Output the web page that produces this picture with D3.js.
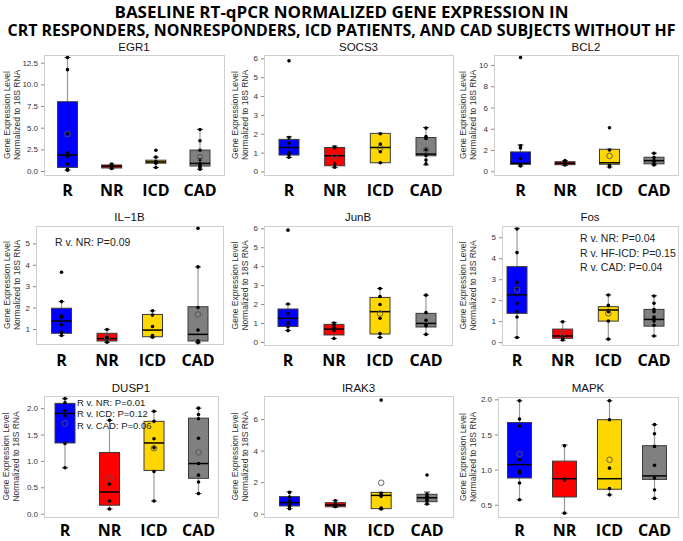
<!DOCTYPE html>
<html><head><meta charset="utf-8">
<script src="https://cdn.jsdelivr.net/npm/d3@7"></script>
<style>body{margin:0;background:#fff} svg{display:block}</style>
</head><body><svg id="c" width="683" height="541"></svg>
<script>
// ---------- DATA ----------
const groups = ["R", "NR", "ICD", "CAD"];
const titleLines = ["BASELINE RT-qPCR NORMALIZED GENE EXPRESSION IN",
                    "CRT RESPONDERS, NONRESPONDERS, ICD PATIENTS, AND CAD SUBJECTS WITHOUT HF"];
const yLabelLines = ["Gene Expression Level", "Normalized to 18S RNA"];
const geneNames = ["EGR1", "SOCS3", "BCL2", "IL\u22121B", "JunB", "Fos", "DUSP1", "IRAK3", "MAPK"];

// box stats per group: [whiskerLow, q1, median, q3, whiskerHigh]
const egr1Box = [[0.1, 0.42, 1.85, 8.0, 13.1], [0.25, 0.35, 0.55, 0.7, 0.8], [0.4, 0.9, 1.05, 1.25, 1.6], [0.2, 0.58, 0.88, 2.42, 4.8]];
const egr1Mean = [4.25, null, null, 1.6];
const egr1Pts = [[13.1, 11.7, 4.3, 2.1, 1.7, 0.8, 0.2, 0.1], [0.8, 0.6, 0.5, 0.3], [2.4, 1.6, 1.1, 1.0, 0.9, 0.4], [4.8, 3.5, 2.4, 1.3, 0.85, 0.6, 0.4, 0.2]];
const egr1Ticks = [0, 2.5, 5, 7.5, 10, 12.5];
const egr1Domain = [-0.46, 13.39];

const socs3Box = [[0.74, 0.87, 1.27, 1.7, 1.84], [0.2, 0.3, 0.83, 1.27, 1.35], [0.46, 0.46, 1.27, 2.02, 2.02], [0.35, 0.83, 0.92, 1.8, 2.33]];
const socs3Mean = [null, 0.78, 1.25, 1.15];
const socs3Pts = [[5.87, 1.8, 1.5, 1.0, 0.9, 0.75], [1.3, 1.25, 0.4, 0.22], [2.0, 1.45, 1.05, 0.46], [2.3, 1.85, 1.75, 1.15, 0.85, 0.6, 0.4]];
const socs3Ticks = [0, 1, 2, 3, 4, 5, 6];
const socs3Domain = [-0.19, 6.18];

const bcl2Box = [[0.5, 0.66, 0.75, 1.82, 2.48], [0.55, 0.62, 0.75, 0.9, 1.0], [0.4, 0.66, 0.8, 2.07, 2.07], [0.6, 0.7, 1.0, 1.32, 1.7]];
const bcl2Mean = [null, null, 1.45, null];
const bcl2Pts = [[10.7, 2.4, 2.2, 1.2, 0.6, 0.5], [1.0, 0.85, 0.6], [4.1, 2.0, 0.55, 0.4], [1.7, 1.3, 1.0, 0.95, 0.7, 0.6]];
const bcl2Ticks = [0, 2, 4, 6, 8, 10];
const bcl2Domain = [-0.35, 10.94];

const il1bBox = [[0.69, 0.8, 1.37, 1.97, 2.28], [0.38, 0.44, 0.55, 0.8, 0.98], [0.62, 0.64, 0.95, 1.68, 1.85], [0.36, 0.44, 0.75, 2.04, 3.9]];
const il1bMean = [null, 0.6, null, 1.68];
const il1bPts = [[3.65, 2.28, 1.6, 1.55, 1.2, 0.85, 0.7], [0.98, 0.62, 0.5, 0.38], [1.85, 1.65, 1.12, 0.7, 0.62], [5.7, 3.9, 2.0, 0.95, 0.45, 0.4, 0.36]];
const il1bTicks = [1, 2, 3, 4, 5];
const il1bDomain = [0.3, 5.81];
const il1bNotes = ["R v. NR: P=0.09"];

const junbBox = [[0.6, 0.82, 1.25, 1.74, 2.0], [0.18, 0.37, 0.68, 0.93, 1.02], [0.23, 0.42, 1.6, 2.35, 2.82], [0.4, 0.79, 0.98, 1.51, 2.47]];
const junbMean = [null, null, 1.5, null];
const junbPts = [[5.9, 2.0, 1.5, 1.02, 0.8, 0.6], [1.0, 0.9, 0.75, 0.6, 0.18], [2.82, 2.4, 1.98, 1.25, 0.45, 0.25], [2.47, 1.55, 1.15, 0.9, 0.85, 0.4]];
const junbTicks = [0, 1, 2, 3, 4, 5, 6];
const junbDomain = [-0.16, 6.12];

const fosBox = [[0.22, 1.37, 2.25, 3.6, 5.43], [0.08, 0.18, 0.29, 0.62, 0.97], [0.14, 1.0, 1.53, 1.69, 2.25], [0.29, 0.76, 1.08, 1.56, 2.21]];
const fosMean = [2.5, 0.41, 1.37, null];
const fosPts = [[5.4, 4.27, 2.85, 2.6, 1.85, 1.45, 1.2, 0.22], [0.97, 0.25, 0.15, 0.1], [2.25, 1.75, 1.5, 1.45, 1.0, 0.14], [2.2, 1.85, 1.55, 1.45, 1.2, 1.1, 1.0, 0.8, 0.29]];
const fosTicks = [0, 1, 2, 3, 4, 5];
const fosDomain = [-0.14, 5.54];
const fosNotes = ["R v. NR: P=0.04", "R v. HF-ICD: P=0.15", "R v. CAD: P=0.04"];

const dusp1Box = [[0.87, 1.34, 1.9, 2.09, 2.18], [0.09, 0.16, 0.41, 1.16, 1.77], [0.24, 0.82, 1.34, 1.75, 1.94], [0.38, 0.67, 0.95, 1.81, 2.0]];
const dusp1Mean = [1.71, 0.67, 1.24, 1.16];
const dusp1Pts = [[2.18, 2.1, 1.95, 1.85, 1.33, 0.87], [1.77, 0.56, 0.24, 0.09], [1.94, 1.75, 1.42, 1.25, 0.8, 0.24], [2.0, 1.88, 1.8, 1.43, 0.95, 0.73, 0.6, 0.38]];
const dusp1Ticks = [0, 0.5, 1, 1.5, 2];
const dusp1Domain = [-0.063, 2.23];
const dusp1Notes = ["R v. NR: P=0.01", "R v. ICD: P=0.12", "R v. CAD: P=0.06"];

const irak3Box = [[0.32, 0.49, 0.7, 1.08, 1.39], [0.4, 0.44, 0.55, 0.7, 0.85], [0.3, 0.32, 1.16, 1.35, 1.35], [0.6, 0.76, 1.01, 1.23, 1.37]];
const irak3Mean = [null, null, 1.96, null];
const irak3Pts = [[1.35, 1.05, 0.8, 0.6, 0.45, 0.32], [0.82, 0.6, 0.5, 0.45], [7.2, 1.3, 1.15, 1.1, 0.35, 0.3], [2.45, 1.25, 1.1, 1.0, 0.9, 0.8, 0.62]];
const irak3Ticks = [0, 2, 4, 6];
const irak3Domain = [-0.21, 7.46];

const mapkBox = [[0.57, 0.88, 1.07, 1.67, 1.98], [0.38, 0.61, 0.87, 1.12, 1.35], [0.64, 0.72, 0.87, 1.71, 1.98], [0.59, 0.86, 0.91, 1.34, 1.64]];
const mapkMean = [1.22, null, 1.14, null];
const mapkPts = [[1.98, 1.72, 1.62, 1.14, 0.98, 0.95, 0.81, 0.57], [1.34, 0.87, 0.85, 0.38], [1.98, 1.71, 1.02, 0.73, 0.64], [1.64, 1.51, 1.33, 1.06, 0.88, 0.71, 0.59]];
const mapkTicks = [0.5, 1, 1.5, 2];
const mapkDomain = [0.325, 2.033];

// ---------- STYLE / LAYOUT ----------
const groupColors = {R: "#0000FF", NR: "#FF0000", ICD: "#FFD700", CAD: "#808080"};
const panels = [
  {box: egr1Box, mean: egr1Mean, pts: egr1Pts, ticks: egr1Ticks, dom: egr1Domain, fmt: ".1f", notes: [],
   x0: 44, x1: 224, y0: 55, y1: 175, cx: [67.5, 200], ylx: 7, tY: 51, cY: 196, bw: 20},
  {box: socs3Box, mean: socs3Mean, pts: socs3Pts, ticks: socs3Ticks, dom: socs3Domain, fmt: "d", notes: [],
   x0: 264, x1: 453, y0: 55, y1: 175, cx: [289, 426], ylx: 235, tY: 51, cY: 196, bw: 20},
  {box: bcl2Box, mean: bcl2Mean, pts: bcl2Pts, ticks: bcl2Ticks, dom: bcl2Domain, fmt: "d", notes: [],
   x0: 494, x1: 678, y0: 55, y1: 175, cx: [520.5, 654], ylx: 463, tY: 51, cY: 196, bw: 20},
  {box: il1bBox, mean: il1bMean, pts: il1bPts, ticks: il1bTicks, dom: il1bDomain, fmt: "d", notes: il1bNotes,
   x0: 36, x1: 223, y0: 226, y1: 344, cx: [61.5, 198], ylx: 7, tY: 221, cY: 366, bw: 20,
   nx: 55, ny: 246, nfs: 10.5, ndy: 14},
  {box: junbBox, mean: junbMean, pts: junbPts, ticks: junbTicks, dom: junbDomain, fmt: "d", notes: [],
   x0: 264, x1: 452, y0: 226, y1: 345, cx: [288, 426], ylx: 235, tY: 221, cY: 366, bw: 20},
  {box: fosBox, mean: fosMean, pts: fosPts, ticks: fosTicks, dom: fosDomain, fmt: "d", notes: fosNotes,
   x0: 502, x1: 678, y0: 226, y1: 345, cx: [517, 654], ylx: 463, tY: 221, cY: 366, bw: 20,
   nx: 580, ny: 242, nfs: 10.5, ndy: 14.5},
  {box: dusp1Box, mean: dusp1Mean, pts: dusp1Pts, ticks: dusp1Ticks, dom: dusp1Domain, fmt: ".1f", notes: dusp1Notes,
   x0: 44, x1: 218, y0: 396, y1: 517, cx: [65, 198.5], ylx: 6, tY: 392, cY: 536, bw: 20,
   nx: 77, ny: 405.5, nfs: 9.5, ndy: 11.5},
  {box: irak3Box, mean: irak3Mean, pts: irak3Pts, ticks: irak3Ticks, dom: irak3Domain, fmt: "d", notes: [],
   x0: 264, x1: 453, y0: 396, y1: 517, cx: [289.5, 427], ylx: 235, tY: 392, cY: 536, bw: 20},
  {box: mapkBox, mean: mapkMean, pts: mapkPts, ticks: mapkTicks, dom: mapkDomain, fmt: ".1f", notes: [],
   x0: 498, x1: 678, y0: 397, y1: 517, cx: [519.5, 654.5], ylx: 463, tY: 392, cY: 536, bw: 24}
];

const svg = d3.select("#c");
svg.append("rect").attr("width", 683).attr("height", 541).attr("fill", "#fff");

// main title
const tl = [{t: titleLines[0], y: 18, w: 454, x: 341.5}, {t: titleLines[1], y: 36, w: 668, x: 341.5}];
svg.selectAll("text.mt").data(tl).join("text").attr("class", "mt")
  .attr("x", d => d.x).attr("y", d => d.y).attr("text-anchor", "middle")
  .attr("font-family", "'Open Sans', sans-serif").attr("font-weight", "bold").attr("font-size", 16)
  .attr("textLength", d => d.w).attr("lengthAdjust", "spacingAndGlyphs").attr("fill", "#000")
  .text(d => d.t);

// faint separator lines left of right-column panels
[[53, 174], [226, 345], [397, 517]].forEach(r => {
  svg.append("line").attr("x1", 451.5).attr("x2", 451.5).attr("y1", r[0]).attr("y2", r[1])
    .attr("stroke", "#e2e2e2");
});

panels.forEach((p, i) => {
  const g = svg.append("g");
  const y = d3.scaleLinear().domain(p.dom).range([p.y1, p.y0]);
  const x = d3.scalePoint().domain(groups).range(p.cx);

  g.append("rect").attr("x", p.x0 + 0.5).attr("y", p.y0 + 0.5)
    .attr("width", p.x1 - p.x0).attr("height", p.y1 - p.y0)
    .attr("fill", "#fff").attr("stroke", "#cfcfcf");

  const ax = g.append("g").attr("transform", `translate(${p.x0},0)`)
    .call(d3.axisLeft(y).tickValues(p.ticks).tickSize(3).tickPadding(3).tickFormat(d3.format(p.fmt)));
  ax.select(".domain").remove();
  ax.selectAll("line").attr("stroke", "#888");
  ax.selectAll("text").attr("font-family", "'Liberation Sans', Arial, sans-serif")
    .attr("font-size", 8).attr("fill", "#333");

  // title
  g.append("text").attr("x", (p.x0 + p.x1) / 2).attr("y", p.tY).attr("text-anchor", "middle")
    .attr("font-family", "'Liberation Sans', Arial, sans-serif").attr("font-size", 11.5).attr("fill", "#111")
    .text(geneNames[i]);

  // y label
  const cyMid = (p.y0 + p.y1) / 2;
  yLabelLines.forEach((t, k) => {
    g.append("text").attr("transform", `translate(${p.ylx + 3 + k * 9.5},${cyMid}) rotate(-90)`)
      .attr("text-anchor", "middle").attr("font-family", "'Liberation Sans', Arial, sans-serif")
      .attr("font-size", 8.5).attr("fill", "#333").text(t);
  });

  const half = p.bw / 2;
  groups.forEach((gr, j) => {
    const [lo, q1, md, q3, hi] = p.box[j];
    const cx = x(gr);
    // whiskers
    g.append("line").attr("x1", cx).attr("x2", cx).attr("y1", y(hi)).attr("y2", y(q3))
      .attr("stroke", "#9a9a9a").attr("stroke-width", 1.2);
    g.append("line").attr("x1", cx).attr("x2", cx).attr("y1", y(q1)).attr("y2", y(lo))
      .attr("stroke", "#9a9a9a").attr("stroke-width", 1.2);
    [lo, hi].forEach(v => {
      g.append("line").attr("x1", cx - 3).attr("x2", cx + 3).attr("y1", y(v)).attr("y2", y(v))
        .attr("stroke", "#444").attr("stroke-width", 1);
    });
    // box
    g.append("rect").attr("x", cx - half).attr("y", y(q3)).attr("width", p.bw)
      .attr("height", Math.max(1, y(q1) - y(q3)))
      .attr("fill", groupColors[gr]).attr("stroke", "#3a3a3a").attr("stroke-width", 1);
    g.append("line").attr("x1", cx - half).attr("x2", cx + half).attr("y1", y(md)).attr("y2", y(md))
      .attr("stroke", "#000").attr("stroke-width", 1.5);
    // points
    g.selectAll(null).data(p.pts[j]).join("circle")
      .attr("cx", cx).attr("cy", d => y(d)).attr("r", 1.8).attr("fill", "#000");
    // mean
    if (p.mean[j] != null) {
      g.append("circle").attr("cx", cx).attr("cy", y(p.mean[j])).attr("r", 2.8)
        .attr("fill", "none").attr("stroke", "#555").attr("stroke-width", 0.9);
    }
    // category label
    g.append("text").attr("x", cx).attr("y", p.cY).attr("text-anchor", "middle")
      .attr("font-family", "'Open Sans', sans-serif").attr("font-weight", "bold")
      .attr("font-size", 16).attr("fill", "#000").text(gr);
  });

  // annotations
  p.notes.forEach((t, k) => {
    g.append("text").attr("x", p.nx).attr("y", p.ny + k * p.ndy)
      .attr("font-family", "'Liberation Sans', Arial, sans-serif").attr("font-size", p.nfs)
      .attr("fill", "#222").text(t);
  });
});
</script></body></html>
